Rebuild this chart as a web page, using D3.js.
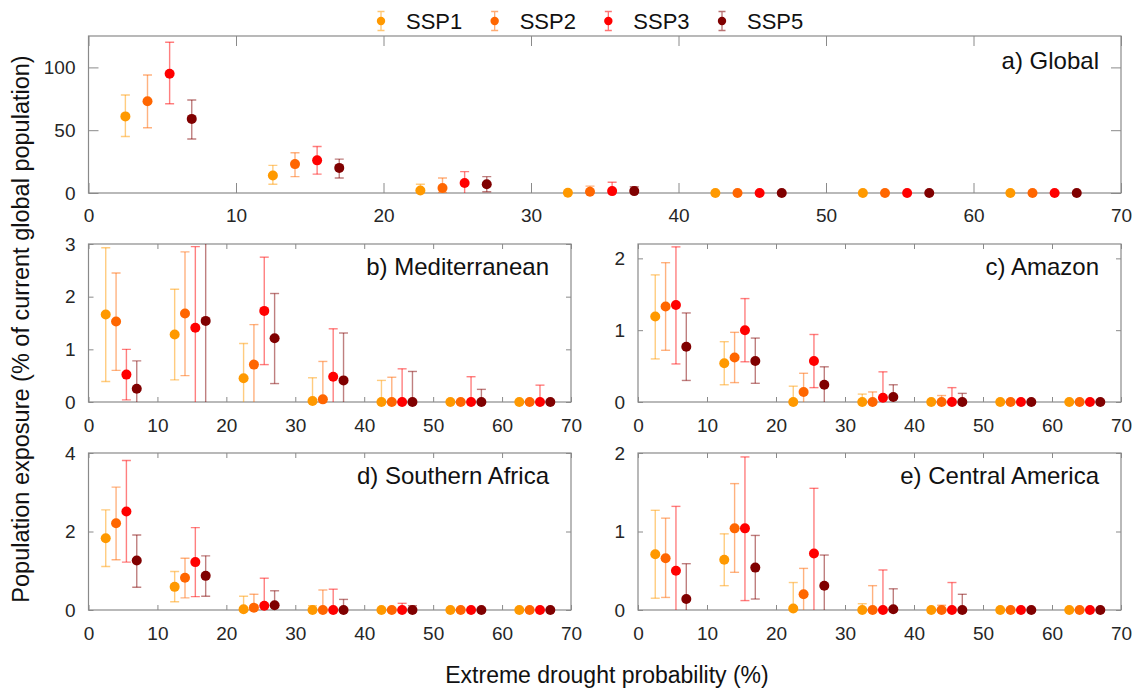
<!DOCTYPE html>
<html>
<head>
<meta charset="utf-8">
<script src="https://cdn.jsdelivr.net/npm/d3@7"></script>
<style>
  body { margin: 0; background: #fff; }
  text { font-family: "Liberation Sans", Arial, sans-serif; }
</style>
</head>
<body>
<div id="vis"></div>
<script>
var width = 1132,
    height = 689;

//----------DATA---------//
var scenarios = ["SSP1", "SSP2", "SSP3", "SSP5"];
var scenarioColors = ["#ff9900", "#ff6600", "#ff0000", "#800000"];
var probBins = [0, 10, 20, 30, 40, 50, 60];      // drought probability bins (%)
var scenarioOffset = [2.5, 4, 5.5, 7];           // x of each scenario inside a bin
var xTicks = [0, 10, 20, 30, 40, 50, 60, 70];

// rows = SSP1, SSP2, SSP3, SSP5 ; columns = bins
var globalMid = [
    [61, 14, 2, 0.2, 0, 0, 0],
    [73, 23, 4, 1, 0, 0, 0],
    [95, 26, 8, 1.5, 0, 0, 0],
    [59, 20, 7, 1.5, 0, 0, 0]];
var globalLow = [
    [45, 7, 0, 0, 0, 0, 0],
    [52, 13, 0.5, 0, 0, 0, 0],
    [71, 15, 0, 0, 0, 0, 0],
    [43, 12, 1, 0, 0, 0, 0]];
var globalHigh = [
    [78, 22, 7, 0.5, 0, 0, 0],
    [94, 32, 12, 5.5, 0, 0, 0],
    [120, 37, 17, 8.5, 0, 0, 0],
    [74, 27, 13, 5, 0, 0, 0]];

var medMid = [
    [1.66, 1.28, 0.45, 0.02, 0, 0, 0],
    [1.53, 1.68, 0.71, 0.05, 0, 0, 0],
    [0.52, 1.41, 1.73, 0.48, 0, 0, 0],
    [0.25, 1.54, 1.21, 0.41, 0, 0, 0]];
var medLow = [
    [0.39, 0.42, 0, 0, 0, 0, 0],
    [0.6, 0.5, 0, 0, 0, 0, 0],
    [0.04, 0, 0.71, 0, 0, 0, 0],
    [0, 0, 0.35, 0, 0, 0, 0]];
var medHigh = [
    [2.93, 2.14, 1.11, 0.46, 0.41, 0, 0],
    [2.45, 2.85, 1.47, 0.77, 0.47, 0, 0],
    [1.0, 2.95, 2.75, 1.39, 0.63, 0.48, 0.32],
    [0.78, 3.2, 2.06, 1.31, 0.58, 0.24, 0]];

var amazonMid = [
    [1.19, 0.54, 0, 0, 0, 0, 0],
    [1.33, 0.62, 0.14, 0, 0, 0, 0],
    [1.35, 1.0, 0.57, 0.06, 0, 0, 0],
    [0.77, 0.57, 0.24, 0.07, 0, 0, 0]];
var amazonLow = [
    [0.6, 0.24, 0, 0, 0, 0, 0],
    [0.72, 0.27, 0, 0, 0, 0, 0],
    [0.53, 0.56, 0.2, 0, 0, 0, 0],
    [0.3, 0.26, 0, 0, 0, 0, 0]];
var amazonHigh = [
    [1.77, 0.84, 0.22, 0.11, 0, 0, 0],
    [1.94, 0.97, 0.4, 0.14, 0.09, 0, 0],
    [2.16, 1.44, 0.94, 0.42, 0.2, 0, 0],
    [1.24, 0.89, 0.49, 0.24, 0.12, 0, 0]];

var safMid = [
    [1.83, 0.59, 0.02, 0, 0, 0, 0],
    [2.21, 0.82, 0.06, 0, 0, 0, 0],
    [2.51, 1.22, 0.11, 0, 0, 0, 0],
    [1.26, 0.87, 0.12, 0, 0, 0, 0]];
var safLow = [
    [1.11, 0.21, 0, 0, 0, 0, 0],
    [1.28, 0.31, 0, 0, 0, 0, 0],
    [1.22, 0.34, 0, 0, 0, 0, 0],
    [0.58, 0.35, 0, 0, 0, 0, 0]];
var safHigh = [
    [2.55, 0.98, 0.35, 0.11, 0, 0, 0],
    [3.13, 1.32, 0.4, 0.51, 0, 0, 0],
    [3.81, 2.1, 0.81, 0.53, 0.17, 0, 0],
    [1.91, 1.38, 0.49, 0.27, 0.11, 0, 0]];

var camMid = [
    [0.71, 0.64, 0.02, 0, 0, 0, 0],
    [0.66, 1.04, 0.2, 0, 0, 0, 0],
    [0.5, 1.04, 0.72, 0, 0, 0, 0],
    [0.14, 0.54, 0.31, 0.01, 0, 0, 0]];
var camLow = [
    [0.15, 0.31, 0, 0, 0, 0, 0],
    [0.16, 0.48, 0, 0, 0, 0, 0],
    [0, 0.12, 0, 0, 0, 0, 0],
    [0, 0.14, 0, 0, 0, 0, 0]];
var camHigh = [
    [1.27, 0.97, 0.35, 0.08, 0, 0, 0],
    [1.17, 1.61, 0.53, 0.31, 0.06, 0, 0],
    [1.32, 1.95, 1.55, 0.51, 0.35, 0, 0],
    [0.59, 0.95, 0.7, 0.27, 0.2, 0, 0]];

//----------LAYOUT---------//
var panels = [
    {id: "a", title: "a) Global", mid: globalMid, lo: globalLow, hi: globalHigh,
     yMax: 125, yTicks: [0, 50, 100], left: 88.5, right: 1121, top: 36, bottom: 193, tick: 10},
    {id: "b", title: "b) Mediterranean", mid: medMid, lo: medLow, hi: medHigh,
     yMax: 3, yTicks: [0, 1, 2, 3], left: 88.5, right: 571, top: 244, bottom: 402, tick: 5},
    {id: "c", title: "c) Amazon", mid: amazonMid, lo: amazonLow, hi: amazonHigh,
     yMax: 2.2, yTicks: [0, 1, 2], left: 638, right: 1121, top: 244, bottom: 402, tick: 5},
    {id: "d", title: "d) Southern Africa", mid: safMid, lo: safLow, hi: safHigh,
     yMax: 4, yTicks: [0, 2, 4], left: 88.5, right: 571, top: 453, bottom: 610, tick: 5},
    {id: "e", title: "e) Central America", mid: camMid, lo: camLow, hi: camHigh,
     yMax: 2, yTicks: [0, 1, 2], left: 638, right: 1121, top: 453, bottom: 610, tick: 5}
];

var axisColor = "#8a8a8a",
    labelColor = "#262626",
    capHalf = 4.5,
    markerR = 5;

var svg = d3.select("#vis").append("svg")
    .attr("width", width)
    .attr("height", height);

var defs = svg.append("defs");

panels.forEach(function(p) {
    var x = d3.scaleLinear().domain([0, 70]).range([p.left, p.right]);
    var y = d3.scaleLinear().domain([0, p.yMax]).range([p.bottom, p.top]);
    var g = svg.append("g").attr("class", "panel");

    defs.append("clipPath").attr("id", "clip-" + p.id)
        .append("rect")
        .attr("x", p.left).attr("y", p.top)
        .attr("width", p.right - p.left).attr("height", p.bottom - p.top);

    // axes, MATLAB box style with ticks inside on all four sides
    var xb = g.append("g").attr("transform", "translate(0," + p.bottom + ")")
        .call(d3.axisBottom(x).tickValues(xTicks).tickSizeInner(-p.tick).tickSizeOuter(0)
            .tickPadding(p.tick + 6).tickFormat(d3.format("d")));
    var xt = g.append("g").attr("transform", "translate(0," + p.top + ")")
        .call(d3.axisTop(x).tickValues(xTicks).tickSizeInner(-p.tick).tickSizeOuter(0).tickFormat(""));
    var yl = g.append("g").attr("transform", "translate(" + p.left + ",0)")
        .call(d3.axisLeft(y).tickValues(p.yTicks).tickSizeInner(-p.tick).tickSizeOuter(0)
            .tickPadding(p.tick + 3).tickFormat(d3.format("d")));
    var yr = g.append("g").attr("transform", "translate(" + p.right + ",0)")
        .call(d3.axisRight(y).tickValues(p.yTicks).tickSizeInner(-p.tick).tickSizeOuter(0).tickFormat(""));

    [xb, xt, yl, yr].forEach(function(a) {
        a.select(".domain").remove();
        a.selectAll(".tick line").attr("stroke", axisColor);
        a.selectAll(".tick text")
            .attr("fill", labelColor)
            .style("font-size", "19px");
    });
    yl.selectAll(".tick text").attr("dx", p.tick === 10 ? "0" : "-5");
    xb.selectAll(".tick text").attr("dy", p.tick === 10 ? "0.71em" : "1.0em");

    g.append("rect")
        .attr("x", p.left).attr("y", p.top)
        .attr("width", p.right - p.left).attr("height", p.bottom - p.top)
        .attr("fill", "none")
        .attr("stroke", axisColor)
        .attr("stroke-width", 1.2);

    // error bars + markers
    scenarios.forEach(function(s, si) {
        var col = scenarioColors[si];
        var pts = probBins.map(function(b, bi) {
            return {x: b + scenarioOffset[si], m: p.mid[si][bi], lo: p.lo[si][bi], hi: p.hi[si][bi]};
        });

        var bars = g.append("g")
            .attr("clip-path", "url(#clip-" + p.id + ")")
            .attr("stroke", col)
            .attr("stroke-opacity", 0.5)
            .attr("stroke-width", 1.4);

        var eb = bars.selectAll(".eb")
            .data(pts.filter(function(d) { return d.hi > d.lo; }))
            .enter().append("g").attr("class", "eb");

        eb.append("line")
            .attr("x1", function(d) { return x(d.x); })
            .attr("x2", function(d) { return x(d.x); })
            .attr("y1", function(d) { return y(d.lo); })
            .attr("y2", function(d) { return y(d.hi); });
        eb.append("line")
            .attr("x1", function(d) { return x(d.x) - capHalf; })
            .attr("x2", function(d) { return x(d.x) + capHalf; })
            .attr("y1", function(d) { return y(d.hi); })
            .attr("y2", function(d) { return y(d.hi); });
        eb.filter(function(d) { return d.lo > 0; }).append("line")
            .attr("x1", function(d) { return x(d.x) - capHalf; })
            .attr("x2", function(d) { return x(d.x) + capHalf; })
            .attr("y1", function(d) { return y(d.lo); })
            .attr("y2", function(d) { return y(d.lo); });

        g.append("g").selectAll("circle")
            .data(pts)
            .enter().append("circle")
            .attr("cx", function(d) { return x(d.x); })
            .attr("cy", function(d) { return y(d.m); })
            .attr("r", markerR)
            .attr("fill", col);
    });

    g.append("text")
        .attr("x", p.right - 22)
        .attr("y", p.top + (p.tick === 10 ? 33 : 31))
        .attr("text-anchor", "end")
        .attr("fill", "#111")
        .style("font-size", "24px")
        .text(p.title);
});

//----------LEGEND---------//
var legend = svg.append("g").attr("id", "legend");
var legX = d3.scalePoint().domain(scenarios).range([381, 722]);

var item = legend.selectAll(".legenditem")
    .data(scenarios)
    .enter().append("g")
    .attr("class", "legenditem")
    .attr("transform", function(d) { return "translate(" + legX(d) + ",21)"; });

item.append("path")
    .attr("d", "M-3.5,-9.5H3.5M0,-9.5V9.5M-3.5,9.5H3.5")
    .attr("fill", "none")
    .attr("stroke", function(d, i) { return scenarioColors[i]; })
    .attr("stroke-opacity", 0.55)
    .attr("stroke-width", 1.3);
item.append("circle")
    .attr("r", 4.2)
    .attr("fill", function(d, i) { return scenarioColors[i]; });
item.append("text")
    .attr("x", 25)
    .attr("y", 7.5)
    .attr("fill", "#111")
    .style("font-size", "22px")
    .text(function(d) { return d; });

//----------AXIS LABELS---------//
svg.append("text")
    .attr("transform", "translate(29,329) rotate(-90)")
    .attr("text-anchor", "middle")
    .attr("fill", "#111")
    .style("font-size", "23.5px")
    .text("Population exposure (% of current global population)");

svg.append("text")
    .attr("x", 607)
    .attr("y", 683)
    .attr("text-anchor", "middle")
    .attr("fill", "#111")
    .style("font-size", "23px")
    .text("Extreme drought probability (%)");
</script>
</body>
</html>
